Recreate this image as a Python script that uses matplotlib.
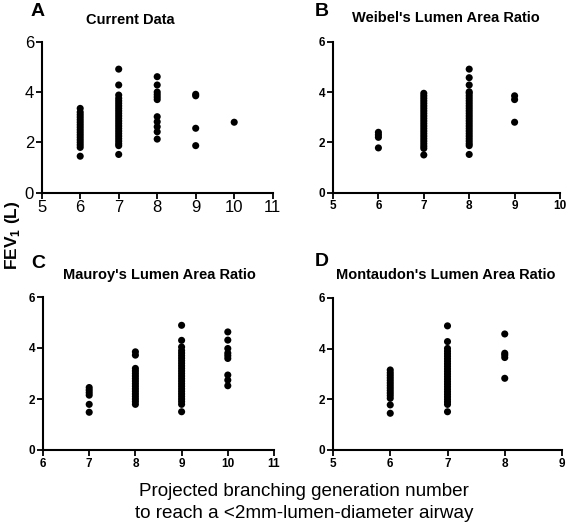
import matplotlib
matplotlib.use("Agg")
import matplotlib.pyplot as plt

plt.rcParams['font.family'] = ['Liberation Sans', 'DejaVu Sans']
plt.rcParams['mathtext.fontset'] = 'custom'
plt.rcParams['mathtext.rm'] = 'Liberation Sans'
plt.rcParams['mathtext.bf'] = 'Liberation Sans:bold'

# ---- data (FEV1 in L, grouped by projected generation) ----
a_gen = [6, 7, 8, 9, 10]
a_fev = [
    [1.45, 1.8, 1.9, 2.0, 2.1, 2.2, 2.3, 2.4, 2.5, 2.6, 2.7, 2.8, 2.9, 3.0, 3.1, 3.2, 3.35],
    [1.52, 1.87, 1.95, 2.05, 2.15, 2.25, 2.35, 2.45, 2.55, 2.65, 2.75, 2.85, 2.95, 3.05,
     3.15, 3.25, 3.35, 3.45, 3.55, 3.65, 3.75, 3.88, 4.28, 4.91],
    [2.13, 2.42, 2.62, 2.82, 3.02, 3.7, 3.8, 3.9, 4.0, 4.28, 4.61],
    [1.87, 2.56, 3.85, 3.91],
    [2.8],
]

b_gen = [6, 7, 8, 9]
b_fev = [
    [1.78, 2.2, 2.3, 2.4],
    [1.5, 1.76, 1.85, 1.95, 2.05, 2.15, 2.25, 2.35, 2.45, 2.55, 2.65, 2.75, 2.85, 2.95,
     3.05, 3.15, 3.25, 3.35, 3.45, 3.55, 3.65, 3.75, 3.85, 3.95],
    [1.52, 1.87, 1.95, 2.05, 2.15, 2.25, 2.35, 2.45, 2.55, 2.65, 2.75, 2.85, 2.95, 3.05,
     3.15, 3.25, 3.35, 3.45, 3.55, 3.65, 3.75, 3.85, 3.95, 4.01, 4.28, 4.57, 4.91],
    [2.8, 3.7, 3.85],
]

c_gen = [7, 8, 9, 10]
c_fev = [
    [1.48, 1.79, 2.15, 2.25, 2.35, 2.45],
    [1.79, 1.9, 2.0, 2.1, 2.2, 2.3, 2.4, 2.5, 2.6, 2.7, 2.8, 2.9, 3.0, 3.1, 3.2, 3.72, 3.85],
    [1.5, 1.79, 1.9, 2.0, 2.1, 2.2, 2.3, 2.4, 2.5, 2.6, 2.7, 2.8, 2.9, 3.0, 3.1, 3.2,
     3.3, 3.4, 3.5, 3.6, 3.7, 3.8, 3.9, 4.04, 4.3, 4.89],
    [2.52, 2.74, 2.94, 3.59, 3.7, 3.8, 3.98, 4.31, 4.63],
]

d_gen = [6, 7, 8]
d_fev = [
    [1.45, 1.78, 2.04, 2.15, 2.25, 2.35, 2.45, 2.55, 2.65, 2.75, 2.85, 2.95, 3.05, 3.16],
    [1.51, 1.8, 1.9, 2.0, 2.1, 2.2, 2.3, 2.4, 2.5, 2.6, 2.7, 2.8, 2.9, 3.0, 3.1, 3.2,
     3.3, 3.4, 3.5, 3.6, 3.7, 3.8, 3.9, 4.01, 4.28, 4.9],
    [2.83, 3.65, 3.75, 3.82, 4.58],
]

panels = [
    dict(gen=a_gen, fev=a_fev, xlim=(5, 11), letter="A", title="Current Data",
         rect=[41.7, 41.7, 272.7, 192.7], tpos=(130, 20), lpos=(38, 12), big=True),
    dict(gen=b_gen, fev=b_fev, xlim=(5, 10), letter="B", title="Weibel's Lumen Area Ratio",
         rect=[333, 41.7, 560, 192.7], tpos=(446, 18), lpos=(322, 12), big=False),
    dict(gen=c_gen, fev=c_fev, xlim=(6, 11), letter="C", title="Mauroy's Lumen Area Ratio",
         rect=[43, 297, 274, 450], tpos=(159, 275), lpos=(38, 263), big=False),
    dict(gen=d_gen, fev=d_fev, xlim=(5, 9), letter="D", title="Montaudon's Lumen Area Ratio",
         rect=[333, 298, 562, 450], tpos=(446, 275), lpos=(322, 262), big=False),
]

W, H = 567, 525
fig = plt.figure(figsize=(W / 100, H / 100), dpi=100)

for p in panels:
    l, t, r, b = p["rect"]
    ax = fig.add_axes([l / W, 1 - b / H, (r - l) / W, (b - t) / H])
    for g, vals in zip(p["gen"], p["fev"]):
        ax.scatter([g] * len(vals), vals, s=26, color="black", edgecolors="none",
                   clip_on=False, zorder=3)
    ax.set_xlim(*p["xlim"])
    ax.set_ylim(0, 6)
    ax.set_xticks(range(p["xlim"][0], p["xlim"][1] + 1))
    ax.set_yticks([0, 2, 4, 6])
    for s in ("top", "right"):
        ax.spines[s].set_visible(False)
    for s in ("left", "bottom"):
        ax.spines[s].set_linewidth(1.5)
    if p["big"]:
        ax.tick_params(axis="both", length=4, width=1.3, pad=1.5, labelsize=12)
    else:
        ax.tick_params(axis="both", length=4, width=1.3, pad=1.5, labelsize=8.5)
        for lab in ax.get_xticklabels() + ax.get_yticklabels():
            lab.set_fontweight("bold")
    fig.text(p["tpos"][0] / W, 1 - p["tpos"][1] / H, p["title"], ha="center", va="center",
             fontsize=10.5, fontweight="bold")
    fig.text(p["lpos"][0] / W, 1 - p["lpos"][1] / H, p["letter"], ha="center", va="center",
             fontsize=14, fontweight="bold")

fig.text(13 / W, 1 - 235 / H, r"FEV$_{\mathbf{1}}$ (L)", rotation=90, ha="center", va="center",
         fontsize=12.5, fontweight="bold")
fig.text(304 / W, 1 - 492 / H, "Projected branching generation number", ha="center",
         va="center", fontsize=13.6)
fig.text(304 / W, 1 - 514 / H, "to reach a <2mm-lumen-diameter airway", ha="center",
         va="center", fontsize=13.6)

fig.savefig("out.png", dpi=100, facecolor="white")
